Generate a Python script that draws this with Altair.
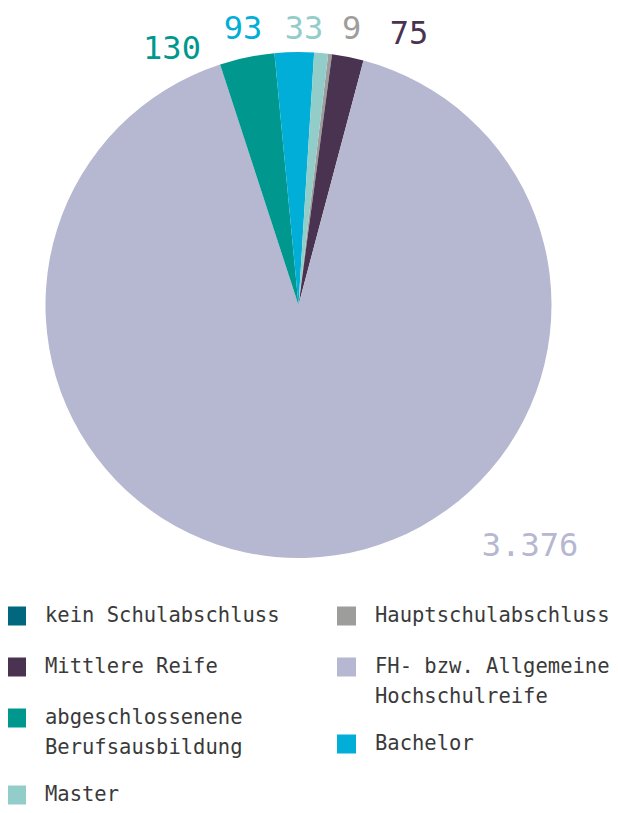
import math
import altair as alt
import pandas as pd

# ---------------- data ----------------
categories = [
    "kein Schulabschluss",
    "Hauptschulabschluss",
    "Mittlere Reife",
    "FH- bzw. Allgemeine Hochschulreife",
    "abgeschlossenene Berufsausbildung",
    "Bachelor",
    "Master",
]
values = [0, 9, 75, 3376, 130, 93, 33]
legend_labels = [
    "kein Schulabschluss",
    "Hauptschulabschluss",
    "Mittlere Reife",
    "FH- bzw. Allgemeine\nHochschulreife",
    "abgeschlossenene\nBerufsausbildung",
    "Bachelor",
    "Master",
]
colors = ["#00677F", "#9D9D9C", "#4A3350", "#B6B7D0", "#00978F", "#00AED8", "#93CDCA"]

# ---------------- layout / style ----------------
START_DEG = 6.75          # rotation of the first slice
OUTER_R = 253
# label placement: turn (deg) away from slice middle, and distance from centre (px)
label_turn_deg = [0, 3.7, 10.9, -42.3, -14.5, -10.4, -4.0]
label_radius = [0, 281.5, 293, 334, 286, 282, 276.5]

FONT = "DejaVu Sans Mono"
total = sum(values)

pie_df = pd.DataFrame({"cat": categories, "value": values, "idx": range(len(values))})
cum = pie_df["value"].cumsum()
mid = cum - pie_df["value"] / 2
lab_df = pie_df.copy()
lab_df["lt"] = (mid + pd.Series(label_turn_deg) / 360 * total) % total
lab_df["lr"] = label_radius
lab_df["txt"] = [f"{v:,}".replace(",", ".") for v in values]
lab_df = lab_df[lab_df["value"] > 0]

start = math.radians(START_DEG)
theta_scale = alt.Scale(domain=[0, total], range=[start, start + 2 * math.pi])
color_scale = alt.Scale(domain=categories, range=colors)

arcs = alt.Chart(pie_df).mark_arc(outerRadius=OUTER_R).encode(
    theta=alt.Theta("value:Q", stack=True, scale=theta_scale),
    color=alt.Color("cat:N", scale=color_scale, legend=None),
    order=alt.Order("idx:Q"),
)
texts = alt.Chart(lab_df).mark_text(
    font=FONT, fontSize=32, align="center", baseline="middle"
).encode(
    theta=alt.Theta("lt:Q", stack=None, scale=theta_scale),
    radius=alt.Radius("lr:Q", scale=None),
    text="txt:N",
    color=alt.Color("cat:N", scale=color_scale, legend=None),
)
pie = alt.layer(arcs, texts).properties(width=581, height=594)

# ---------------- manual legend (two columns, each stacked on its own) ----------------
LEG_COL_X = [8.5, 338.5]
LEG_TEXT_DX = 28.5
LEG_TOP = 14
ITEM_GAP = 51
EXTRA_LINE = 26
LINE_H = 30

items, lines = [], []
col_y = [LEG_TOP, LEG_TOP]
for i, (cat, lab) in enumerate(zip(categories, legend_labels)):
    c = i % 2
    y = col_y[c]
    parts = lab.split("\n")
    items.append({"cat": cat, "sx": LEG_COL_X[c], "sy": y})
    for k, p in enumerate(parts):
        lines.append({"tx": LEG_COL_X[c] + LEG_TEXT_DX, "ty": y + k * LINE_H, "txt": p})
    col_y[c] = y + ITEM_GAP + EXTRA_LINE * (len(parts) - 1)

items_df = pd.DataFrame(items)
lines_df = pd.DataFrame(lines)

squares = alt.Chart(items_df).mark_square(size=361, opacity=1, clip=True).encode(
    x=alt.X("sx:Q", scale=None, axis=None),
    y=alt.Y("sy:Q", scale=None, axis=None),
    color=alt.Color("cat:N", scale=color_scale, legend=None),
)
leg_text = alt.Chart(lines_df).mark_text(
    font=FONT, fontSize=20.5, align="left", baseline="middle", color="#3a3a3a", clip=True
).encode(
    x=alt.X("tx:Q", scale=None, axis=None),
    y=alt.Y("ty:Q", scale=None, axis=None),
    text="txt:N",
)
legend = alt.layer(squares, leg_text).properties(width=602, height=203)

chart = (
    alt.vconcat(pie, legend, spacing=0)
    .properties(padding=0)
    .configure_view(stroke=None)
)
chart.save("out.html", embed_options={"renderer": "svg", "actions": False})
